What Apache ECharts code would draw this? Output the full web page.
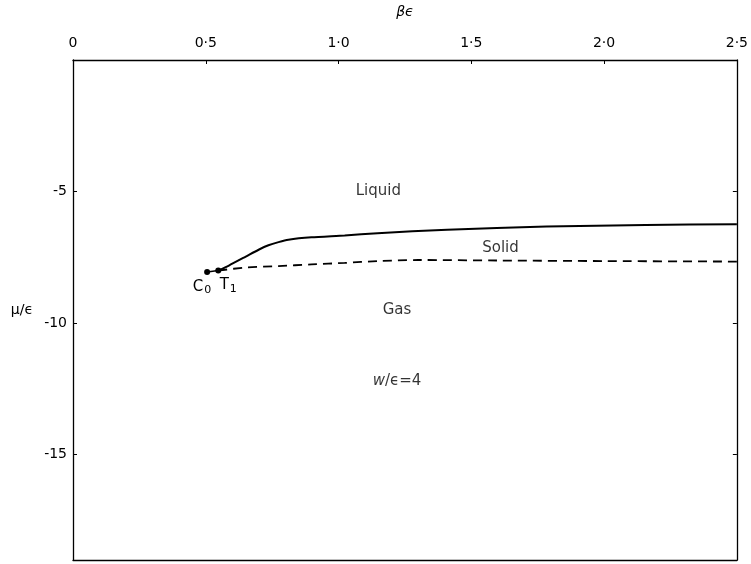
<!DOCTYPE html>
<html>
<head>
<meta charset="utf-8">
<script src="https://cdn.jsdelivr.net/npm/echarts@6/dist/echarts.min.js"></script>
<style>
html,body{margin:0;padding:0;background:#fff;}
#chart{width:751px;height:564px;}
</style>
</head>
<body>
<div id="chart"></div>
<script>
// ---- data ----
const xTickValues = [0, 0.5, 1.0, 1.5, 2.0, 2.5];
const xTickLabels = ['0', '0·5', '1·0', '1·5', '2·0', '2·5'];
const yTickValues = [-5, -10, -15];
const yTickLabels = ['-5', '-10', '-15'];

// liquid–solid coexistence line (solid)
const solidX = [0.547, 0.587, 0.649, 0.699, 0.736, 0.774, 0.811, 0.898, 1.023, 1.147, 1.409, 1.783, 2.157, 2.5];
const solidY = [-8.0, -7.81, -7.48, -7.21, -7.04, -6.92, -6.83, -6.74, -6.67, -6.58, -6.45, -6.33, -6.27, -6.24];

// solid–gas coexistence line (dashed)
const dashedX = [0.547, 0.649, 0.774, 0.898, 1.023, 1.147, 1.3, 1.6, 2.0, 2.5];
const dashedY = [-8.0, -7.89, -7.83, -7.77, -7.71, -7.64, -7.6, -7.62, -7.64, -7.66];

// special points
const pointNames = ['C0', 'T1'];
const pointX = [0.505, 0.547];
const pointY = [-8.06, -8.0];

// region annotations
const regionNames = ['Liquid', 'Solid', 'Gas', 'w/ϵ=4'];
const regionX = [1.15, 1.61, 1.22, 1.22];
const regionY = [-5.0, -7.14, -9.51, -12.2];

const FONT = 'DejaVu Sans';
const zip = (a, b) => a.map((v, i) => [v, b[i]]);
const pointLabelOffset = [[-5, 0], [10, 0]];

const chart = echarts.init(document.getElementById('chart'), null, {renderer: 'canvas'});
chart.setOption({
  animation: false,
  backgroundColor: '#fff',
  textStyle: {fontFamily: FONT, color: '#000'},
  grid: {left: 73, right: 9, top: 55, bottom: 4, containLabel: false},
  xAxis: [{
    type: 'value', position: 'top', min: 0, max: 2.5, interval: 0.5,
    name: 'βϵ', nameLocation: 'middle', nameGap: 41,
    nameTextStyle: {fontFamily: FONT, fontSize: 14, color: '#000', fontStyle: 'italic'},
    axisLine: {show: true, onZero: false, lineStyle: {color: '#000', width: 1.3}},
    axisTick: {show: true, inside: true, length: 4, lineStyle: {color: '#000'}},
    axisLabel: {
      show: true, margin: 10, fontFamily: FONT, fontSize: 14, color: '#000',
      formatter: v => { const i = xTickValues.findIndex(t => Math.abs(t - v) < 1e-6); return i >= 0 ? xTickLabels[i] : ''; }
    },
    splitLine: {show: false}
  }, {
    type: 'value', position: 'bottom', min: 0, max: 2.5,
    axisLine: {show: true, onZero: false, lineStyle: {color: '#000', width: 1.3}},
    axisTick: {show: false}, axisLabel: {show: false}, splitLine: {show: false}
  }],
  yAxis: [{
    type: 'value', position: 'left', min: -19, max: 0,
    name: 'μ/ϵ', nameLocation: 'middle', nameGap: 40, nameRotate: 0,
    nameTextStyle: {fontFamily: FONT, fontSize: 14, color: '#000'},
    axisLine: {show: true, onZero: false, lineStyle: {color: '#000', width: 1.3}},
    axisTick: {show: true, inside: true, length: 4, customValues: yTickValues, lineStyle: {color: '#000'}},
    axisLabel: {
      show: true, margin: 6, fontFamily: FONT, fontSize: 14, color: '#000',
      customValues: yTickValues,
      formatter: v => { const i = yTickValues.findIndex(t => Math.abs(t - v) < 1e-6); return i >= 0 ? yTickLabels[i] : ''; }
    },
    splitLine: {show: false}
  }, {
    type: 'value', position: 'right', min: -19, max: 0,
    axisLine: {show: true, onZero: false, lineStyle: {color: '#000', width: 1.3}},
    axisTick: {show: true, inside: true, length: 4, customValues: yTickValues, lineStyle: {color: '#000'}},
    axisLabel: {show: false}, splitLine: {show: false}
  }],
  series: [
    {
      type: 'line', name: 'liquid-solid', data: zip(solidX, solidY),
      smooth: 0.2, symbol: 'none',
      lineStyle: {color: '#000', width: 2}
    },
    {
      type: 'line', name: 'solid-gas', data: zip(dashedX, dashedY),
      smooth: 0.3, symbol: 'none',
      lineStyle: {color: '#000', width: 1.8, type: [9, 6]}
    },
    {
      type: 'line', name: 'C0-T1',
      data: pointX.map((x, i) => ({value: [x, pointY[i]], label: {offset: pointLabelOffset[i]}})),
      symbol: 'circle', symbolSize: 6,
      itemStyle: {color: '#000'},
      lineStyle: {color: '#000', width: 1.5},
      label: {
        show: true, position: 'bottom', distance: 3,
        fontFamily: FONT, fontSize: 15, color: '#000',
        formatter: p => '{m|' + pointNames[p.dataIndex][0] + '}{s|' + pointNames[p.dataIndex].slice(1) + '}',
        rich: {
          m: {fontFamily: FONT, fontSize: 15, color: '#000'},
          s: {fontFamily: FONT, fontSize: 11, color: '#000', padding: [7, 0, 0, 1]}
        }
      }
    },
    {
      type: 'scatter', name: 'regions', data: zip(regionX, regionY),
      symbolSize: 0,
      label: {
        show: true, position: 'inside',
        fontFamily: FONT, fontSize: 15, color: '#000',
        formatter: p => {
          const n = regionNames[p.dataIndex];
          if (n.startsWith('w')) return '{i|w}/ϵ=4';
          return n;
        },
        rich: {i: {fontFamily: FONT, fontSize: 15, fontStyle: 'italic', color: '#000'}}
      }
    }
  ]
});
</script>
</body>
</html>
